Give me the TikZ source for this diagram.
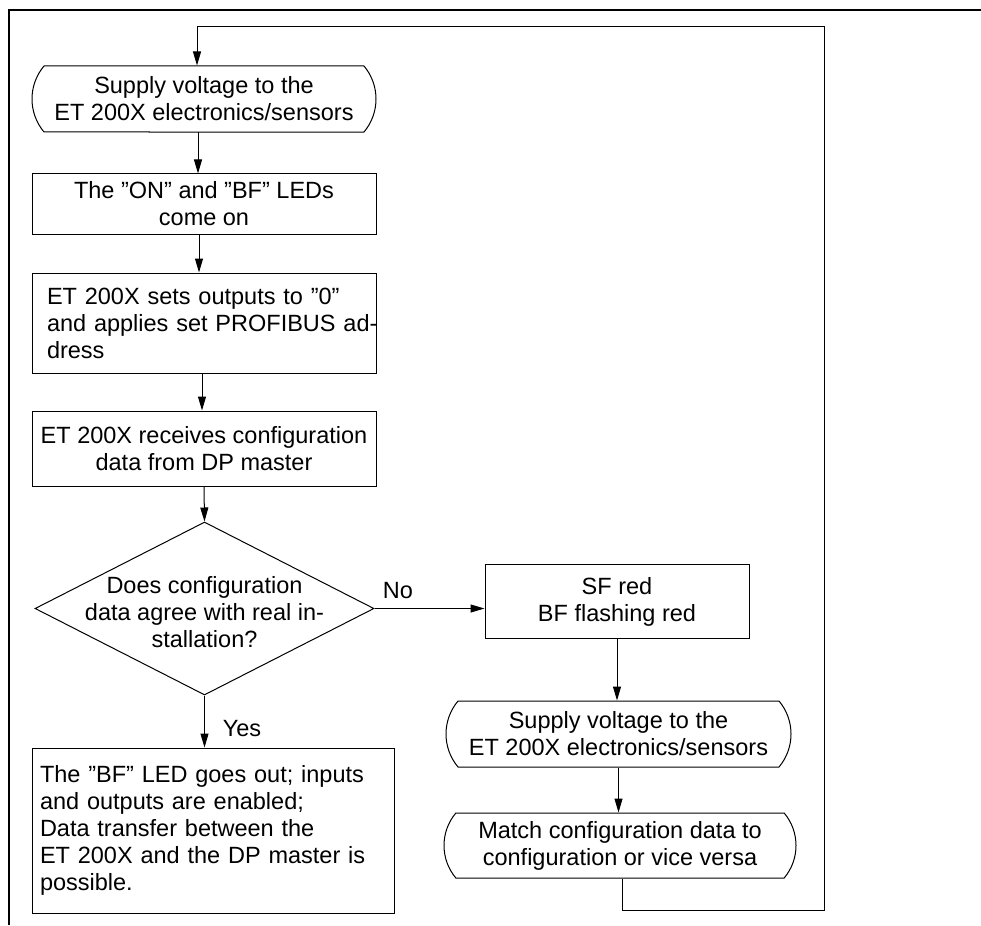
\documentclass[tikz,border=0pt]{standalone}
\usepackage{fontspec}
\setmainfont{Liberation Sans}
\usetikzlibrary{shapes.geometric,shapes.misc,arrows.meta}
\begin{document}
\begin{tikzpicture}[x=1pt,y=-1pt,
  every node/.style={font=\fontsize{23.5}{27}\selectfont},
  ln/.style={line width=1pt},
  arr/.style={ln,-{Triangle[length=14pt,width=8pt]}},
  box/.style={draw,ln,rectangle,inner sep=0pt,align=center},
  term/.style={draw,ln,rounded rectangle,rounded rectangle arc length=80,inner sep=0pt,align=center},
  dia/.style={draw,ln,diamond,inner sep=0pt},
  lab/.style={inner sep=0pt}]
\useasboundingbox (0,0) rectangle (981,925);
% frame
\draw[line width=1.2pt] (981,10) -- (9,10) -- (9,925);
% nodes
\node[term,minimum width=344pt,minimum height=66pt] (t1) at (204,99) {Supply voltage to the\\ET 200X electronics/sensors};
\node[box,minimum width=344pt,minimum height=60pt] (n2) at (204,204) {The ”ON” and ”BF” LEDs\\come on};
\node[box,minimum width=344pt,minimum height=100pt,text width=314pt,align=left] (n3) at (204,323) {\mbox{ET 200X sets outputs to ”0”}\\\mbox{and applies set PROFIBUS ad-}\\\mbox{dress}};
\node[box,minimum width=344pt,minimum height=75pt] (n4) at (204,448.5) {ET 200X receives configuration\\data from DP master};
\node[dia,minimum width=339pt,minimum height=173pt] (d) at (204.5,608.5) {\smash{\raisebox{-13pt}{\makebox[0pt]{\begin{tabular}{@{}c@{}}Does configuration\\data agree with real in-\\stallation?\end{tabular}}}}};
\node[box,minimum width=264pt,minimum height=74pt] (sf) at (617,601.5) {SF red\\BF flashing red};
\node[term,minimum width=345pt,minimum height=66pt] (t2) at (618.5,734) {Supply voltage to the\\ET 200X electronics/sensors};
\node[term,minimum width=352pt,minimum height=65pt] (t3) at (620,845.5) {Match configuration data to\\configuration or vice versa};
\node[box,minimum width=362pt,minimum height=165pt,text width=346pt,align=left] (bb) at (213,830.5) {The ”BF” LED goes out; inputs\\and outputs are enabled;\\Data transfer between the\\ET 200X and the DP master is\\possible.};
% labels
\node[lab] (no) at (398,591) {No};
\node[lab] (yes) at (242,729) {Yes};
% connectors
\draw[arr] ([xshift=-6pt]t1.south) -- ([xshift=-6pt]n2.north);
\draw[arr] ([xshift=-5pt]n2.south) -- ([xshift=-5pt]n3.north);
\draw[arr] ([xshift=-2pt]n3.south) -- ([xshift=-2pt]n4.north);
\draw[arr] (n4.south) -- (d.north);
\draw[arr] (d.east) -- (d.east -| sf.west);
\draw[arr] (d.south) -- (d.south |- bb.north);
\draw[arr] (sf.south) -- (sf.south |- t2.north);
\draw[arr] (t2.south) -- (t2.south |- t3.north);
\coordinate (lb) at (824,910);
\coordinate (lt) at (824,27);
\draw[arr] ([xshift=2pt]t3.south) |- (lb) -- (lt) -| ([xshift=-7pt]t1.north);
\end{tikzpicture}
\end{document}
